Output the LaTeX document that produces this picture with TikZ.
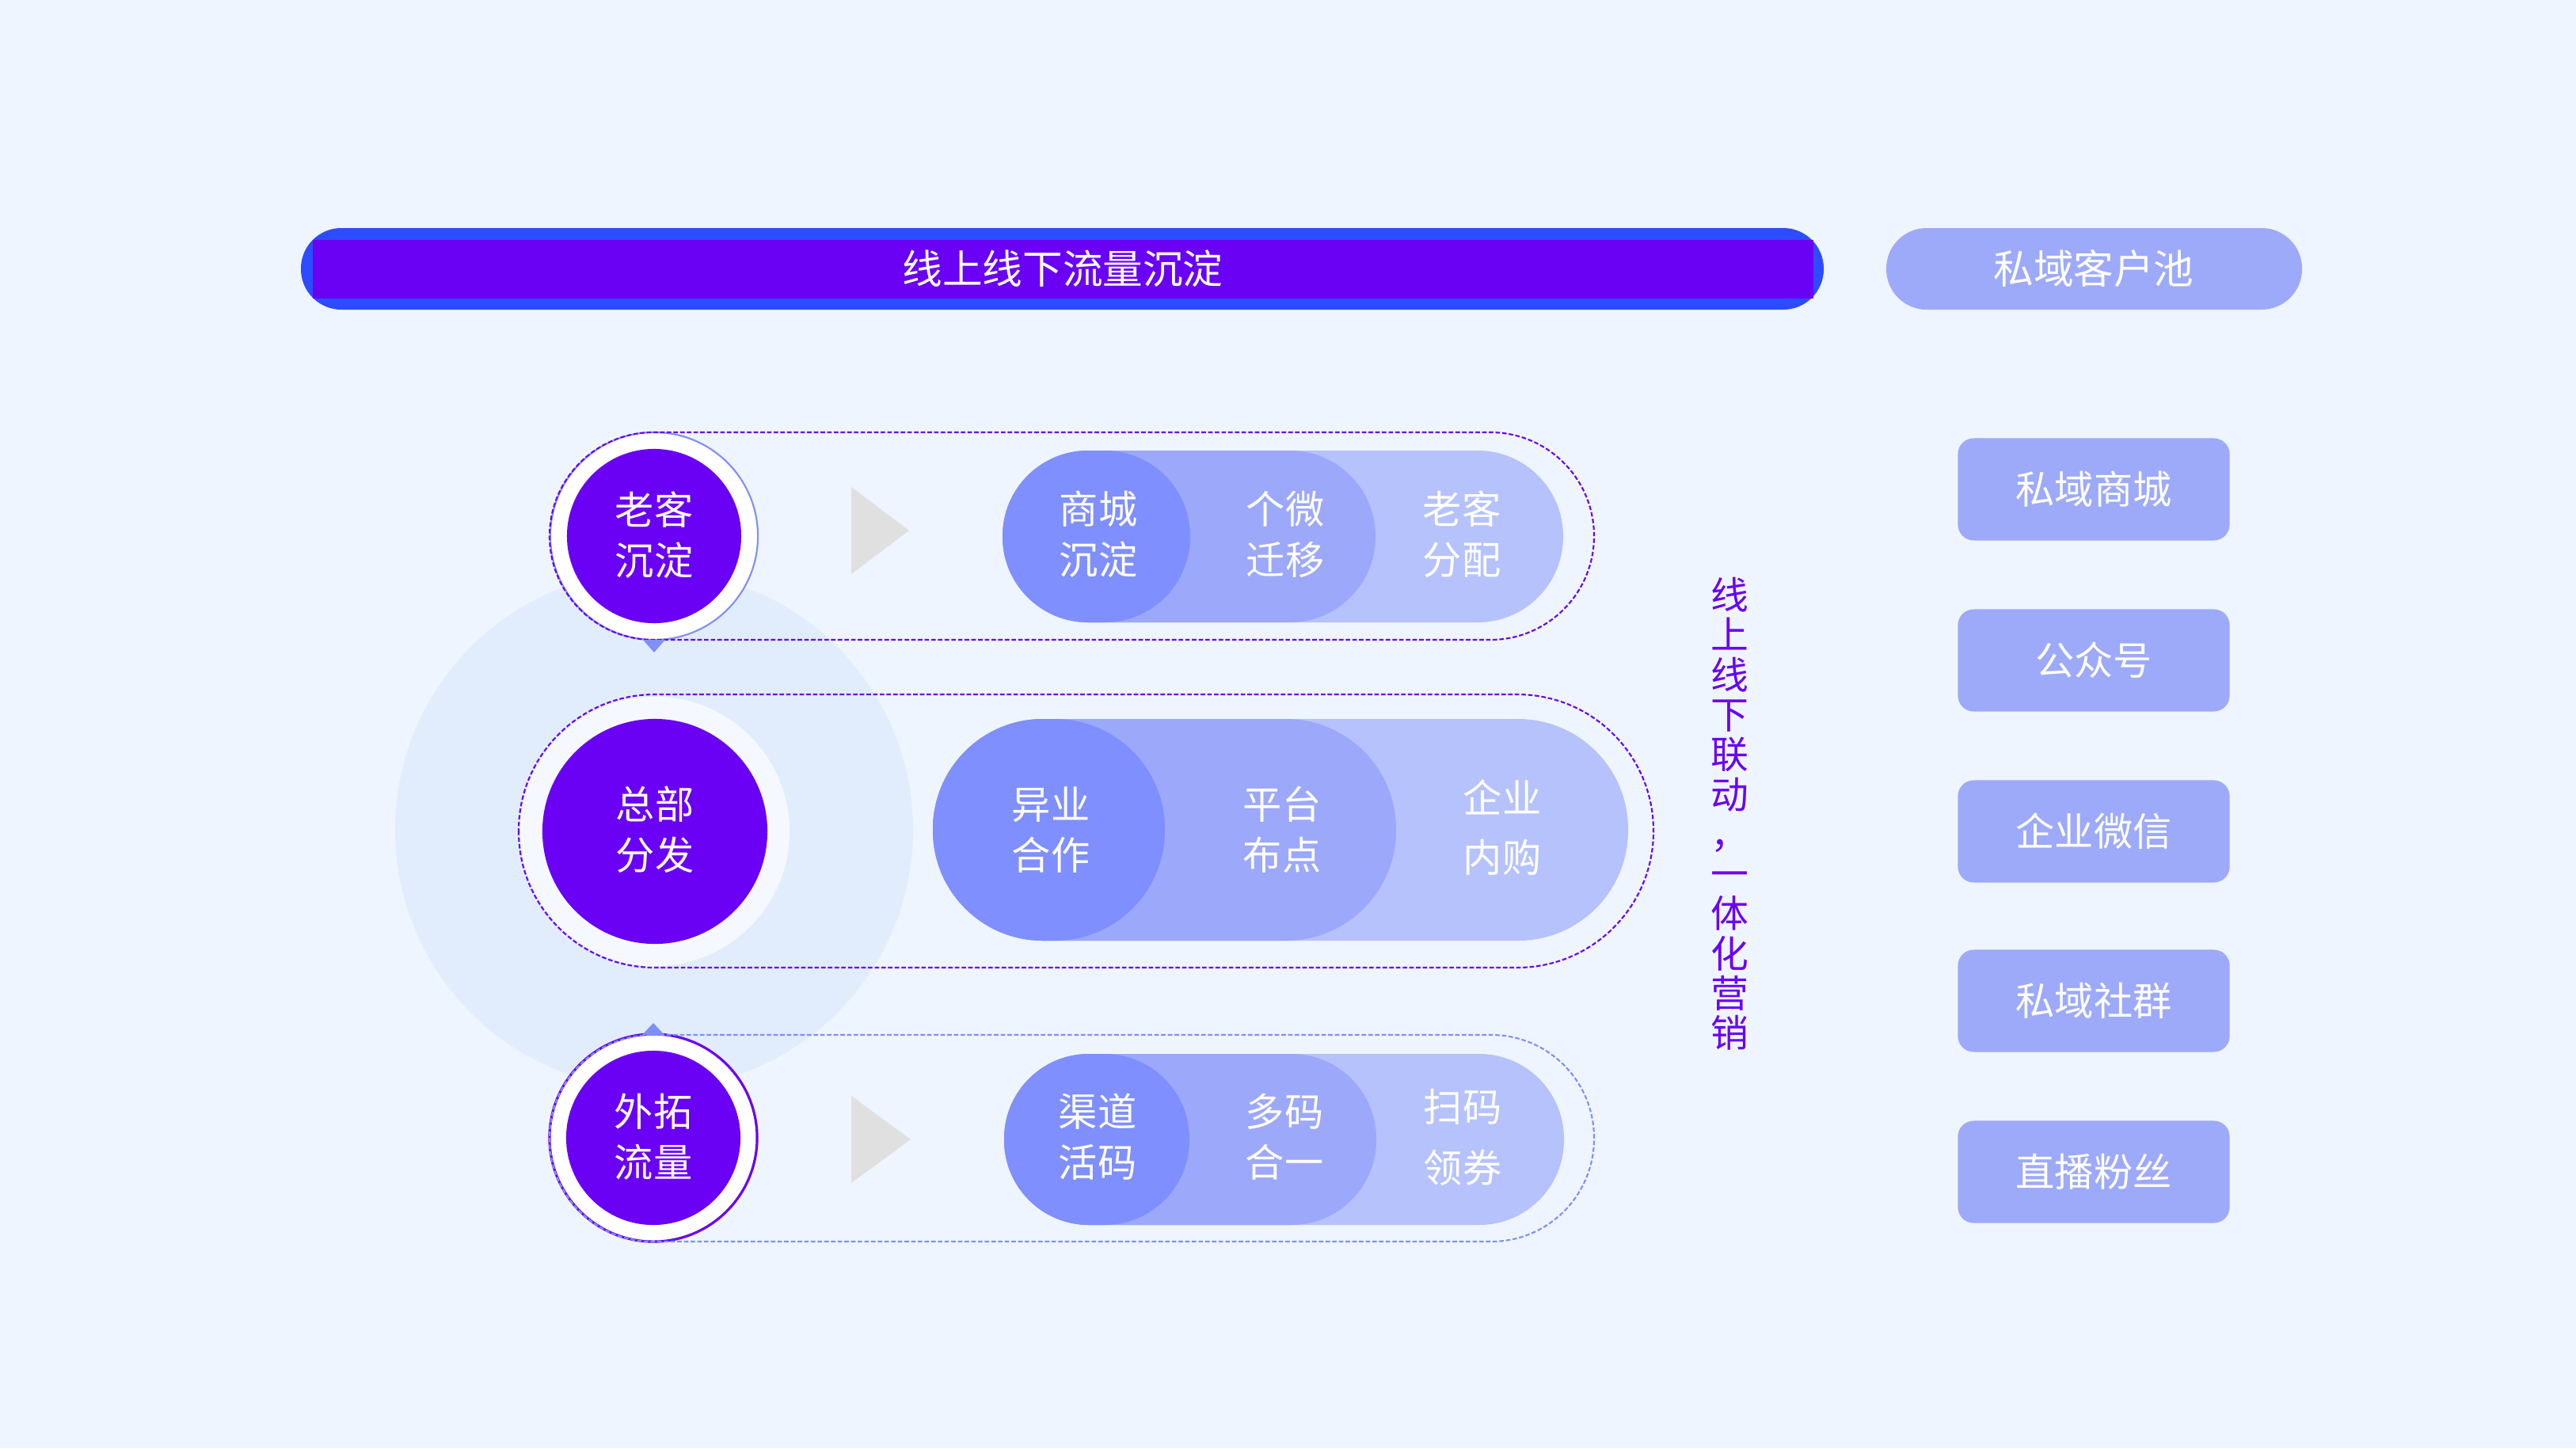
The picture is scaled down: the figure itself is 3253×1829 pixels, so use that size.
\documentclass[tikz,border=0pt]{standalone}
\usepackage{fontspec}
\newfontfamily\cjk{Noto Sans CJK SC}
\definecolor{bgc}{HTML}{EEF5FE}
\definecolor{bigc}{HTML}{E1EDFD}
\definecolor{purp}{HTML}{6A00F4}
\definecolor{barblue}{HTML}{2D4BFF}
\definecolor{capa}{HTML}{7F8FFD}
\definecolor{capb}{HTML}{9CA8FA}
\definecolor{capc}{HTML}{B6C2FC}
\definecolor{boxc}{HTML}{9DAAFA}
\definecolor{ringb}{HTML}{7F8FF8}
\definecolor{trig}{HTML}{E0E0E0}
\definecolor{softw}{HTML}{F5F9FF}
\begin{document}
\begin{tikzpicture}[x=0.01cm,y=-0.01cm,
  txt/.style={text=white,font=\cjk\fontsize{14}{18.2}\selectfont,align=center,inner sep=0pt},
  sidebox/.style={fill=boxc,rounded corners=0.2cm,minimum width=3.43cm,minimum height=1.29cm,inner sep=0pt,text=white,font=\cjk\fontsize{14}{18}\selectfont},
  dashpill/.style={line width=0.6pt,dash pattern=on 1.6pt off 0.8pt},
  ringdot/.style={circle,inner sep=0pt}]
\fill[bgc] (0,0) rectangle (3253,1829);
\useasboundingbox (0,0) rectangle (3253,1829);
% big background circle
\fill[bigc] (826,1048) circle (327);
% top bar
\fill[barblue,rounded corners=0.51cm] (380,288) rectangle (2303,391);
\fill[purp] (395,303) rectangle (2290,377);
\node[txt,font=\cjk\fontsize{14.4}{18}\selectfont] (bartxt) at (1342,339) {线上线下流量沉淀};
\fill[boxc,rounded corners=0.51cm] (2382,288) rectangle (2907,391);
\node[txt,font=\cjk\fontsize{14.4}{18}\selectfont] (pooltxt) at (2644,339) {私域客户池};
% ---- top row
\node[ringdot,fill=white,draw=ringb,line width=0.6pt,minimum size=2.62cm] (ring1) at (826,677) {};
\node[ringdot,fill=purp,minimum size=2.2cm] (c1) at (826,677) {};
\node[txt] (t1) at (826,676) {老客\\沉淀};
\draw[purp,dashpill,rounded corners=1.31cm] (694,546) rectangle (2013,808);
\fill[ringb] (812,808) -- (840,808) -- (826,824) -- cycle;
\fill[trig] (1075,615) -- (1148,670) -- (1075,725) -- cycle;
\fill[capc,rounded corners=1.08cm] (1266,569) rectangle (1974,786);
\fill[capb,rounded corners=1.08cm] (1266,569) rectangle (1737,786);
\fill[capa,rounded corners=1.08cm] (1266,569) rectangle (1503,786);
\node[txt] (a1) at (1387,675) {商城\\沉淀};
\node[txt] (a2) at (1623,675) {个微\\迁移};
\node[txt] (a3) at (1846,675) {老客\\分配};
% ---- middle row
\node[ringdot,fill=softw,minimum size=3.4cm] (ring2) at (827,1050) {};
\node[ringdot,fill=purp,minimum size=2.84cm] (c2) at (827,1050) {};
\node[txt] (t2) at (827,1048) {总部\\分发};
\draw[purp,dashpill,rounded corners=1.72cm] (655,877) rectangle (2088,1222);
\fill[capc,rounded corners=1.39cm] (1178,908) rectangle (2056,1188);
\fill[capb,rounded corners=1.39cm] (1178,908) rectangle (1763,1188);
\fill[capa,rounded corners=1.39cm] (1178,908) rectangle (1471,1188);
\node[txt] (b1) at (1327,1048) {异业\\合作};
\node[txt] (b2) at (1619,1048) {平台\\布点};
\node[txt] (b3) at (1897,1045) {企业\\[3.1pt]内购};
% ---- bottom row
\node[ringdot,fill=white,draw=purp,line width=0.9pt,minimum size=2.62cm] (ring3) at (825,1437) {};
\node[ringdot,fill=purp,minimum size=2.2cm] (c3) at (825,1437) {};
\node[txt] (t3) at (825,1436) {外拓\\流量};
\draw[ringb,dashpill,rounded corners=1.30cm] (694,1307) rectangle (2013,1568);
\fill[ringb] (811,1307) -- (839,1307) -- (825,1292) -- cycle;
\fill[trig] (1075,1384) -- (1150,1439) -- (1075,1494) -- cycle;
\fill[capc,rounded corners=1.07cm] (1268,1331) rectangle (1975,1547);
\fill[capb,rounded corners=1.07cm] (1268,1331) rectangle (1738,1547);
\fill[capa,rounded corners=1.07cm] (1268,1331) rectangle (1502,1547);
\node[txt] (d1) at (1386,1436) {渠道\\活码};
\node[txt] (d2) at (1622,1436) {多码\\合一};
\node[txt] (d3) at (1847,1436) {扫码\\[3.7pt]领券};
% ---- vertical text
\node[text=purp,font=\cjk\fontsize{13.6}{14.3}\selectfont,align=center,inner sep=0pt] (side) at (2184,1028)
  {线\\上\\线\\下\\联\\动\\，\\一\\体\\化\\营\\销};
% ---- right boxes
\node[sidebox] (r1) at (2644,618) {私域商城};
\node[sidebox] (r2) at (2644,834) {公众号};
\node[sidebox] (r3) at (2644,1050) {企业微信};
\node[sidebox] (r4) at (2644,1264) {私域社群};
\node[sidebox] (r5) at (2644,1480) {直播粉丝};
\end{tikzpicture}
\end{document}
